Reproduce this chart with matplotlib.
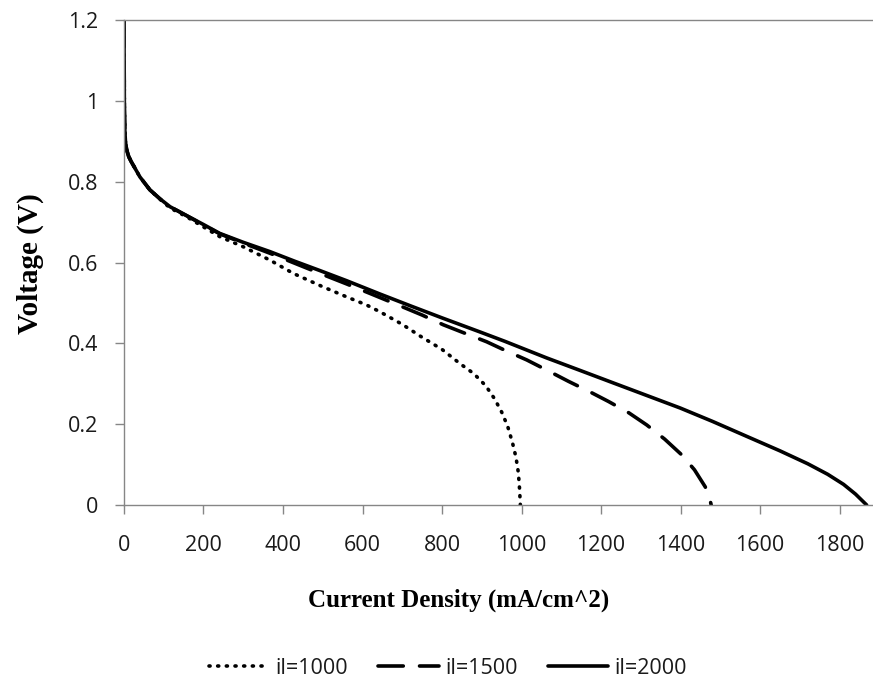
import matplotlib
matplotlib.use("Agg")
import matplotlib.pyplot as plt

# il = 1000
i_1000 = [0, 1, 2, 4, 7, 12, 18, 25, 40, 65, 90, 116, 158, 200, 241, 300, 367, 426, 500, 560, 610, 644, 700, 745, 800, 845, 880, 910, 932, 950, 965, 977, 986, 992, 995, 997]
v_1000 = [1.2, 0.98, 0.93, 0.895, 0.878, 0.862, 0.85, 0.838, 0.812, 0.78, 0.757, 0.735, 0.713, 0.688, 0.664, 0.639, 0.606, 0.573, 0.54, 0.515, 0.495, 0.478, 0.447, 0.418, 0.385, 0.35, 0.325, 0.295, 0.263, 0.23, 0.195, 0.155, 0.118, 0.08, 0.04, 0.0]

# il = 1500
i_1500 = [0, 1, 2, 4, 7, 12, 18, 25, 40, 65, 90, 116, 150, 200, 241, 300, 367, 430, 493, 560, 620, 694, 750, 803, 860, 912, 960, 1013, 1065, 1118, 1170, 1219, 1270, 1315, 1360, 1403, 1435, 1462, 1472, 1477]
v_1500 = [1.2, 0.98, 0.93, 0.895, 0.878, 0.862, 0.85, 0.838, 0.812, 0.78, 0.758, 0.738, 0.72, 0.693, 0.671, 0.648, 0.623, 0.598, 0.573, 0.547, 0.523, 0.493, 0.47, 0.446, 0.424, 0.404, 0.382, 0.359, 0.333, 0.306, 0.281, 0.256, 0.228, 0.198, 0.163, 0.124, 0.087, 0.045, 0.022, 0.0]

# il = 2000
i_2000 = [0, 1, 2, 4, 7, 12, 18, 25, 40, 65, 90, 116, 150, 200, 241, 300, 367, 430, 493, 560, 644, 720, 800, 896, 958, 1063, 1150, 1231, 1315, 1399, 1480, 1566, 1650, 1720, 1770, 1810, 1840, 1868]
v_2000 = [1.2, 0.98, 0.93, 0.895, 0.878, 0.862, 0.85, 0.838, 0.812, 0.78, 0.758, 0.738, 0.72, 0.694, 0.672, 0.65, 0.627, 0.603, 0.58, 0.555, 0.522, 0.493, 0.463, 0.428, 0.405, 0.364, 0.332, 0.302, 0.271, 0.24, 0.207, 0.17, 0.134, 0.102, 0.076, 0.051, 0.027, 0.0]

labels = ["il=1000", "il=1500", "il=2000"]
x_ticks = [0, 200, 400, 600, 800, 1000, 1200, 1400, 1600, 1800]
y_ticks = [0, 0.2, 0.4, 0.6, 0.8, 1.0, 1.2]
y_tick_labels = ["0", "0.2", "0.4", "0.6", "0.8", "1", "1.2"]

fig = plt.figure(figsize=(8.73, 6.98), dpi=100)
ax = fig.add_axes([0.142, 0.2765, 0.858, 0.6948])

lw = 2.6
ax.plot(i_1000, v_1000, color="black", lw=lw, linestyle=(0, (0.3, 2.1)),
        dash_capstyle="round", solid_joinstyle="round", label=labels[0])
ax.plot(i_1500, v_1500, color="black", lw=lw, linestyle=(0, (7, 4.5)),
        dash_capstyle="round", solid_joinstyle="round", label=labels[1])
ax.plot(i_2000, v_2000, color="black", lw=lw, linestyle="-",
        solid_capstyle="round", solid_joinstyle="round", label=labels[2])

ax.set_xlim(0, 1884)
ax.set_ylim(0, 1.2)
ax.set_xticks(x_ticks)
ax.set_yticks(y_ticks)
ax.set_yticklabels(y_tick_labels)

gray = "#868686"
ax.spines["right"].set_visible(False)
for s in ["left", "bottom", "top"]:
    ax.spines[s].set_color(gray)
    ax.spines[s].set_linewidth(1.0)
ax.tick_params(axis="both", direction="out", length=6.5, width=1.0, color=gray,
               labelsize=15.5, labelcolor="#1a1a1a")
ax.tick_params(axis="x", pad=15)
ax.tick_params(axis="y", pad=12)
for lab in ax.get_xticklabels() + ax.get_yticklabels():
    lab.set_family("Open Sans")

fig.text(459 / 873, 1 - 600 / 698, "Current Density (mA/cm^2)", family="Liberation Serif",
         fontweight="bold", fontsize=18, ha="center", va="center")
fig.text(30 / 873, 1 - 264 / 698, "Voltage (V)", family="Liberation Serif",
         fontweight="bold", fontsize=21, ha="center", va="center", rotation=90)

leg = fig.legend(loc="center", bbox_to_anchor=(448 / 873, 1 - 668 / 698), ncol=3, frameon=False,
                 prop={"family": "Open Sans", "size": 15.5}, handlelength=2.8,
                 handletextpad=0.3, columnspacing=1.4)
for t in leg.get_texts():
    t.set_color("#1a1a1a")

fig.savefig("out.png", dpi=100)
